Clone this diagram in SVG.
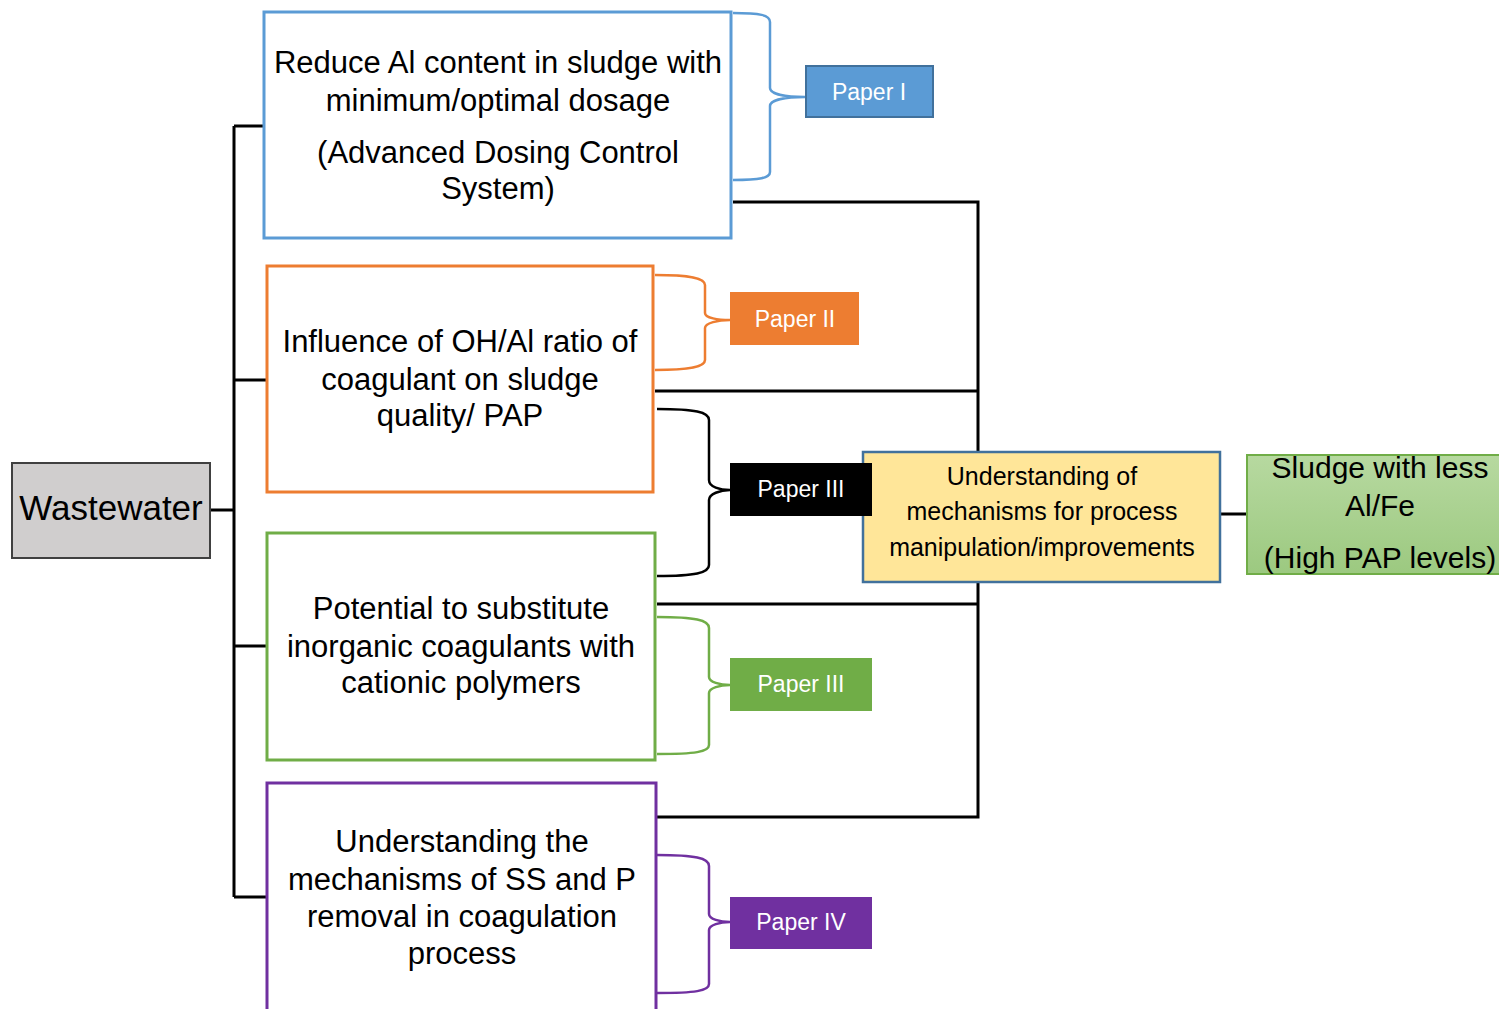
<svg xmlns="http://www.w3.org/2000/svg" width="1499" height="1009" viewBox="0 0 1499 1009">
<style>
.t{font-family:"Liberation Sans",Arial,sans-serif;fill:#000;text-anchor:middle}
.b{font-size:31px}
.p{font-family:"Liberation Sans",Arial,sans-serif;fill:#fff;text-anchor:middle;font-size:23px}
.c{fill:none;stroke:#000;stroke-width:3}
.br{fill:none;stroke-width:2.5}
</style>
<defs>
<linearGradient id="gg" x1="0" y1="0" x2="0" y2="1">
<stop offset="0" stop-color="#B7D9A0"/>
<stop offset="1" stop-color="#9CC980"/>
</linearGradient>
</defs>
<rect width="1499" height="1009" fill="#fff"/>
<g id="connectors">
<path class="c" d="M210,510 H234 M234,126 V897 M234,126 H264 M234,380 H267 M234,646 H267 M234,897 H267"/>
<path class="c" d="M733,202 H978 V817 H657 M655,391 H978 M657,604 H978 M1220,514 H1247"/>
<path class="br" stroke="#5B9BD5" d="M733,13 C760,13 770,15 770,22 L770,88 C770,94 785,97 805,97 C785,97 770,100 770,106 L770,172 C770,178 760,180 733,180"/>
<path class="br" stroke="#ED7D31" d="M655,275 C690,275 705,278 705,285 L705,313 C705,318 718,320 730,320 C718,320 705,323 705,328 L705,360 C705,367 690,370 655,370"/>
<path class="br" stroke="#000" d="M657,409 C695,409 709,412 709,420 L709,480 C709,487 720,490 730,490 C720,490 709,494 709,500 L709,565 C709,573 695,576 657,576"/>
<path class="br" stroke="#70AD47" d="M657,617 C695,617 709,620 709,628 L709,677 C709,682 720,685 730,685 C720,685 709,688 709,693 L709,745 C709,752 695,754 657,754"/>
<path class="br" stroke="#7030A0" d="M657,855 C695,855 709,858 709,866 L709,914 C709,919 720,922 730,922 C720,922 709,925 709,930 L709,984 C709,991 695,993 657,993"/>
</g>
<g id="wastewater">
<rect x="12" y="463" width="198" height="95" fill="#D0CECE" stroke="#404040" stroke-width="2"/>
<text class="t" x="111" y="520" font-size="35">Wastewater</text>
</g>
<g id="box1">
<rect x="264" y="12" width="467" height="226" fill="#fff" stroke="#5B9BD5" stroke-width="3"/>
<text class="t b" x="498" y="73">Reduce Al content in sludge with</text>
<text class="t b" x="498" y="111">minimum/optimal dosage</text>
<text class="t b" x="498" y="163">(Advanced Dosing Control</text>
<text class="t b" x="498" y="199">System)</text>
</g>
<g id="box2">
<rect x="267" y="266" width="386" height="226" fill="#fff" stroke="#ED7D31" stroke-width="3"/>
<text class="t b" x="460" y="352">Influence of OH/Al ratio of</text>
<text class="t b" x="460" y="390">coagulant on sludge</text>
<text class="t b" x="460" y="426">quality/ PAP</text>
</g>
<g id="box3">
<rect x="267" y="533" width="388" height="227" fill="#fff" stroke="#70AD47" stroke-width="3"/>
<text class="t b" x="461" y="619">Potential to substitute</text>
<text class="t b" x="461" y="657">inorganic coagulants with</text>
<text class="t b" x="461" y="693">cationic polymers</text>
</g>
<g id="box4">
<rect x="267" y="783" width="389" height="240" fill="#fff" stroke="#7030A0" stroke-width="3"/>
<text class="t b" x="462" y="852">Understanding the</text>
<text class="t b" x="462" y="890">mechanisms of SS and P</text>
<text class="t b" x="462" y="927">removal in coagulation</text>
<text class="t b" x="462" y="964">process</text>
</g>
<g id="paper1">
<rect x="806" y="66" width="127" height="51" fill="#5B9BD5" stroke="#41719C" stroke-width="2"/>
<text class="p" x="869" y="100">Paper I</text>
</g>
<g id="paper2">
<rect x="730" y="292" width="129" height="53" fill="#ED7D31"/>
<text class="p" x="795" y="327">Paper II</text>
</g>
<g id="paper3b">
<rect x="730" y="658" width="142" height="53" fill="#70AD47"/>
<text class="p" x="801" y="692">Paper III</text>
</g>
<g id="paper4">
<rect x="730" y="897" width="142" height="52" fill="#7030A0"/>
<text class="p" x="801" y="930">Paper IV</text>
</g>
<g id="mechanisms">
<rect x="863" y="452" width="357" height="130" fill="#FFE699" stroke="#41719C" stroke-width="2.5"/>
<text class="t" font-size="25" x="1042" y="485">Understanding of</text>
<text class="t" font-size="25" x="1042" y="520">mechanisms for process</text>
<text class="t" font-size="25" x="1042" y="556">manipulation/improvements</text>
</g>
<g id="paper3a">
<rect x="730" y="463" width="142" height="53" fill="#000"/>
<text class="p" x="801" y="497">Paper III</text>
</g>
<g id="sludge">
<rect x="1247" y="455" width="260" height="119" fill="url(#gg)" stroke="#70AD47" stroke-width="2"/>
<text class="t" font-size="30" x="1380" y="478">Sludge with less</text>
<text class="t" font-size="30" x="1380" y="516">Al/Fe</text>
<text class="t" font-size="30" x="1380" y="568">(High PAP levels)</text>
</g>
</svg>
